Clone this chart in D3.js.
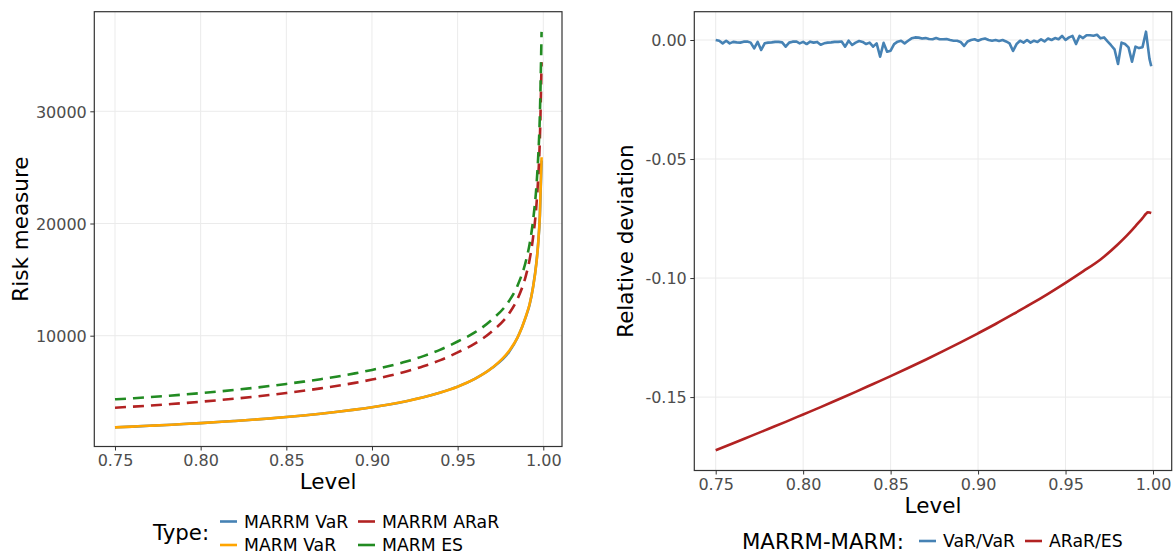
<!DOCTYPE html>
<html>
<head>
<meta charset="utf-8">
<script src="https://cdn.jsdelivr.net/npm/d3@7"></script>
<style>
  body { margin: 0; background: #ffffff; }
  svg { display: block; font-family: "DejaVu Sans", sans-serif; }
</style>
</head>
<body>
<svg id="chart" width="1174" height="554"></svg>
<script>
// ---- Left panel: risk measures by confidence level ----
const levels = [0.75, 0.76, 0.77, 0.78, 0.79, 0.80, 0.81, 0.82, 0.83, 0.84,
                0.85, 0.86, 0.87, 0.88, 0.89, 0.90, 0.91, 0.92, 0.93, 0.94,
                0.95, 0.96, 0.97, 0.98, 0.985, 0.99, 0.992, 0.994, 0.996, 0.997,
                0.998, 0.999];
const marrmVaR  = [1833, 1898, 1968, 2044, 2124, 2210, 2302, 2401, 2507, 2625,
                   2751, 2891, 3046, 3218, 3409, 3627, 3875, 4167, 4511, 4931,
                   5458, 6148, 7113, 8550, 9840, 11770, 12760, 14320, 16550, 18210,
                   20650, 25620];
const marmVaR   = [1833, 1900, 1970, 2046, 2126, 2212, 2304, 2403, 2510, 2627,
                   2753, 2892, 3046, 3217, 3409, 3627, 3876, 4167, 4512, 4931,
                   5456, 6145, 7112, 8637, 9846, 11800, 12800, 14300, 16500, 18200,
                   20800, 25900];
const marrmARaR = [3584, 3671, 3768, 3878, 3992, 4112, 4246, 4389, 4542, 4714,
                   4895, 5091, 5303, 5537, 5797, 6094, 6429, 6813, 7272, 7826,
                   8513, 9290, 10376, 11967, 13290, 15440, 16771, 18717, 21652, 23978,
                   27510, 34384];
const marmES    = [4330, 4420, 4520, 4635, 4755, 4880, 5020, 5170, 5330, 5510,
                   5700, 5905, 6125, 6370, 6640, 6950, 7300, 7700, 8180, 8760,
                   9480, 10290, 11430, 13090, 14480, 16750, 18160, 20230, 23350, 25850,
                   29660, 37080];

// ---- Right panel: relative deviation MARRM vs MARM ----
// VaR/VaR is sampled every 0.002 from 0.75 to 0.998, then at 0.999
const devVaRLevels = d3.range(125).map(i => 0.75 + i * 0.002).concat([0.999]);
const devVaR = [
   0.0000, -0.0003, -0.0014, -0.0003, -0.0014, -0.0008, -0.0010, -0.0011, -0.0007, -0.0006,
  -0.0011, -0.0035, -0.0008, -0.0042, -0.0014, -0.0011, -0.0010, -0.0008, -0.0008, -0.0010,
  -0.0028, -0.0011, -0.0007, -0.0006, -0.0014, -0.0008, -0.0017, -0.0007, -0.0011, -0.0008,
  -0.0020, -0.0014, -0.0011, -0.0010, -0.0008, -0.0008, -0.0006, -0.0028, -0.0003, -0.0021,
  -0.0011, -0.0004, -0.0008, -0.0017, -0.0011, -0.0028, -0.0014, -0.0070, -0.0012, -0.0049,
  -0.0045, -0.0017, -0.0007, -0.0003, -0.0014, -0.0003,  0.0007,  0.0011,  0.0010,  0.0006,
   0.0008,  0.0004,  0.0003,  0.0008,  0.0003,  0.0003,  0.0004,  0.0000, -0.0003, -0.0003,
  -0.0008, -0.0025, -0.0006,  0.0000,  0.0003, -0.0003,  0.0003,  0.0006,  0.0000, -0.0003,
   0.0000, -0.0004,  0.0000, -0.0006, -0.0014, -0.0046, -0.0017, -0.0003, -0.0011,  0.0000,
  -0.0011, -0.0003, -0.0008,  0.0003, -0.0006,  0.0006,  0.0000,  0.0008,  0.0003,  0.0017,
   0.0000,  0.0011,  0.0017, -0.0017,  0.0017,  0.0008,  0.0020,  0.0020,  0.0018,  0.0022,
   0.0007,  0.0011, -0.0006, -0.0022, -0.0039, -0.0101, -0.0011, -0.0017, -0.0031, -0.0091,
  -0.0028, -0.0034, -0.0030,  0.0035, -0.0080, -0.0110];
const devESLevels = [0.75, 0.76, 0.77, 0.78, 0.79, 0.80, 0.81, 0.82, 0.83, 0.84,
                     0.85, 0.86, 0.87, 0.88, 0.89, 0.90, 0.91, 0.92, 0.93, 0.94,
                     0.95, 0.96, 0.97, 0.98, 0.985, 0.99, 0.992, 0.994, 0.996, 0.997,
                     0.998, 0.999];
const devARaR = [-0.1723, -0.1694, -0.1664, -0.1634, -0.1604, -0.1573, -0.1542, -0.1510, -0.1478, -0.1445,
                 -0.1412, -0.1378, -0.1343, -0.1307, -0.1270, -0.1232, -0.1193, -0.1152, -0.1110, -0.1066,
                 -0.1020, -0.0972, -0.0922, -0.0858, -0.0822, -0.0782, -0.0765, -0.0748, -0.0730, -0.0724,
                 -0.0725, -0.0727];

// ---- Axis ticks ----
const levelTicks = [0.75, 0.80, 0.85, 0.90, 0.95, 1.00];
const riskTicks = [10000, 20000, 30000];
const devTicks = [0, -0.05, -0.10, -0.15];

const COLORS = { blue: "#4682B4", orange: "#FFA500", red: "#B22222", green: "#228B22" };
const LINE_W = 2.6;
const DASH = "11,7";

const svg = d3.select("#chart");
svg.append("rect").attr("width", 1174).attr("height", 554).attr("fill", "#fff");

function drawPanel(cfg) {
  const g = svg.append("g");
  const { x, y, box } = cfg;

  // grid
  g.append("g").selectAll("line").data(cfg.xTicks).join("line")
    .attr("x1", d => x(d)).attr("x2", d => x(d))
    .attr("y1", box.top).attr("y2", box.bottom)
    .attr("stroke", "#EBEBEB").attr("stroke-width", 1);
  g.append("g").selectAll("line").data(cfg.yTicks).join("line")
    .attr("x1", box.left).attr("x2", box.right)
    .attr("y1", d => y(d)).attr("y2", d => y(d))
    .attr("stroke", "#EBEBEB").attr("stroke-width", 1);

  // series
  const plot = g.append("g");
  cfg.series.forEach(s => {
    const pts = s.levels.map((lv, i) => [lv, s.values[i]]);
    const line = d3.line().x(d => x(d[0])).y(d => y(d[1]));
    if (s.smooth) line.curve(d3.curveMonotoneX);
    plot.append("path").datum(pts)
      .attr("d", line)
      .attr("fill", "none")
      .attr("stroke", s.color)
      .attr("stroke-width", LINE_W)
      .attr("stroke-linejoin", "round")
      .attr("stroke-dasharray", s.dashed ? DASH : null);
  });

  // axes
  const xAxis = g.append("g").attr("transform", `translate(0,${box.bottom})`)
    .call(d3.axisBottom(x).tickValues(cfg.xTicks).tickSize(4).tickFormat(d => d.toFixed(2)));
  xAxis.select(".domain").remove();
  xAxis.selectAll(".tick line").attr("stroke", "#333333").attr("stroke-width", 1);
  xAxis.selectAll(".tick text").attr("y", 14).attr("dy", "0.36em")
    .attr("font-size", 16).attr("fill", "#4D4D4D").attr("font-family", "DejaVu Sans");

  const yAxis = g.append("g").attr("transform", `translate(${box.left},0)`)
    .call(d3.axisLeft(y).tickValues(cfg.yTicks).tickSize(4).tickFormat(cfg.yFormat));
  yAxis.select(".domain").remove();
  yAxis.selectAll(".tick line").attr("stroke", "#333333").attr("stroke-width", 1);
  yAxis.selectAll(".tick text").attr("x", -7.5).attr("dy", "0.36em")
    .attr("font-size", 16).attr("fill", "#4D4D4D").attr("font-family", "DejaVu Sans");

  // border
  g.append("rect")
    .attr("x", box.left).attr("y", box.top)
    .attr("width", box.right - box.left).attr("height", box.bottom - box.top)
    .attr("fill", "none").attr("stroke", "#333333").attr("stroke-width", 1.2);

  // titles
  g.append("text")
    .attr("x", (box.left + box.right) / 2).attr("y", box.bottom + 42)
    .attr("text-anchor", "middle").attr("font-size", 21.5).attr("fill", "#000")
    .text("Level");
  g.append("text")
    .attr("transform", `translate(${cfg.yTitleX},${(box.top + box.bottom) / 2}) rotate(-90)`)
    .attr("text-anchor", "middle").attr("font-size", 21.5).attr("fill", "#000")
    .text(cfg.yTitle);
}

// Left panel
const boxL = { left: 94.3, right: 562, top: 11.7, bottom: 446.5 };
const xL = d3.scaleLinear().domain([0.73792, 1.01092]).range([boxL.left, boxL.right]);
const yL = d3.scaleLinear().domain([125, 38877]).range([boxL.bottom, boxL.top]);
drawPanel({
  x: xL, y: yL, box: boxL,
  xTicks: levelTicks, yTicks: riskTicks, yFormat: d => String(d),
  yTitle: "Risk measure", yTitleX: 28.3,
  series: [
    { levels: levels, values: marrmVaR,  color: COLORS.blue,   smooth: true },
    { levels: levels, values: marmVaR,   color: COLORS.orange, smooth: true },
    { levels: levels, values: marrmARaR, color: COLORS.red,    smooth: true, dashed: true },
    { levels: levels, values: marmES,    color: COLORS.green,  smooth: true, dashed: true }
  ]
});

// Right panel
const boxR = { left: 694.3, right: 1171.7, top: 11.7, bottom: 470.5 };
const xR = d3.scaleLinear().domain([0.73777, 1.01069]).range([boxR.left, boxR.right]);
const yR = d3.scaleLinear().domain([-0.18084, 0.01189]).range([boxR.bottom, boxR.top]);
drawPanel({
  x: xR, y: yR, box: boxR,
  xTicks: levelTicks, yTicks: devTicks, yFormat: d => d.toFixed(2),
  yTitle: "Relative deviation", yTitleX: 633,
  series: [
    { levels: devVaRLevels, values: devVaR,  color: COLORS.blue },
    { levels: devESLevels,  values: devARaR, color: COLORS.red, smooth: true }
  ]
});

// ---- Legends ----
function legendKey(x, yc, color) {
  svg.append("line").attr("x1", x).attr("x2", x + 17).attr("y1", yc).attr("y2", yc)
    .attr("stroke", color).attr("stroke-width", LINE_W);
}
function legendText(x, yc, txt, size) {
  svg.append("text").attr("x", x).attr("y", yc).attr("dy", "0.36em")
    .attr("font-size", size).attr("fill", "#000").text(txt);
}

// Left legend (two rows, filled by column)
const typeItems = [
  { label: "MARRM VaR",  color: COLORS.blue,   col: 0, row: 0 },
  { label: "MARM VaR",   color: COLORS.orange, col: 0, row: 1 },
  { label: "MARRM ARaR", color: COLORS.red,    col: 1, row: 0 },
  { label: "MARM ES",    color: COLORS.green,  col: 1, row: 1 }
];
legendText(153, 532, "Type:", 21.3);
const colX = [220, 358], rowY = [521.5, 545];
typeItems.forEach(it => {
  legendKey(colX[it.col], rowY[it.row], it.color);
  legendText(colX[it.col] + 24, rowY[it.row], it.label, 17.3);
});

// Right legend (single row)
const devItems = [
  { label: "VaR/VaR", color: COLORS.blue, x: 919 },
  { label: "ARaR/ES", color: COLORS.red,  x: 1025 }
];
legendText(742, 541, "MARRM-MARM:", 21.3);
devItems.forEach(it => {
  legendKey(it.x, 541, it.color);
  legendText(it.x + 24, 541, it.label, 17.3);
});
</script>
</body>
</html>
